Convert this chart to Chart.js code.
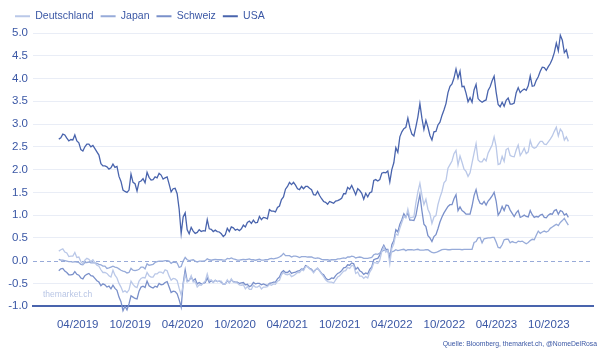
<!DOCTYPE html>
<html><head><meta charset="utf-8">
<script src="https://cdn.jsdelivr.net/npm/chart.js@4.4.1/dist/chart.umd.min.js"></script>
<style>html,body{margin:0;padding:0;background:#fff;}canvas{display:block;}</style>
</head><body>
<canvas id="c" width="604" height="356"></canvas>
<script>
// 10-year government bond yields, weekly (Friday) observations starting 2019-01-04
const seriesNames = ['Deutschland', 'Japan', 'Schweiz', 'USA'];
const firstWeek = '2019-01-04';

const deutschland = [
  0.21,0.24,0.26,0.19, 0.17,0.09,0.10,0.10, 0.18,0.07,0.08,-0.02,-0.07, 0.01,0.05,0.03,-0.02, 0.02,-0.05,-0.10,-0.12,-0.20, -0.26,-0.26,-0.28,-0.33, -0.36,-0.21,-0.32,-0.38, -0.50,-0.58,-0.69,-0.66,-0.70, -0.64,-0.45,-0.52,-0.57, -0.59,-0.45,-0.39,-0.37, -0.38,-0.26,-0.33,-0.36,-0.36, -0.29,-0.29,-0.25,-0.25,
  -0.28,-0.20,-0.22,-0.34,-0.43, -0.39,-0.40,-0.44,-0.61, -0.75,-0.54,-0.30,-0.47, -0.44,-0.33,-0.47,-0.46, -0.58,-0.53,-0.54,-0.49,-0.45, -0.29,-0.44,-0.42,-0.48, -0.43,-0.46,-0.45,-0.45,-0.52, -0.51,-0.42,-0.49,-0.40, -0.47,-0.48,-0.49,-0.53, -0.54,-0.53,-0.62,-0.57,-0.63, -0.63,-0.54,-0.58,-0.58, -0.55,-0.62,-0.58,-0.58,
  -0.57,-0.52,-0.54,-0.51,-0.52, -0.45,-0.43,-0.31,-0.26, -0.30,-0.31,-0.29,-0.35, -0.33,-0.30,-0.26,-0.26,-0.20, -0.22,-0.13,-0.13,-0.18, -0.21,-0.27,-0.20,-0.16, -0.23,-0.29,-0.35,-0.42,-0.46, -0.47,-0.47,-0.49,-0.42, -0.36,-0.33,-0.28,-0.23, -0.22,-0.15,-0.17,-0.11,-0.11, -0.28,-0.25,-0.34,-0.34, -0.39,-0.35,-0.38,-0.25,-0.18,
  -0.04,-0.05,-0.06,0.01, 0.20,0.30,0.19,0.23, -0.07,0.27,0.37,0.59, 0.56,0.71,0.84,0.97,0.94, 1.13,0.94,0.95,0.96, 1.27,1.51,1.70,1.44, 1.23,1.35,1.13,1.03,0.82, 0.96,0.99,1.23,1.39, 1.52,1.71,1.76,2.03,2.11, 2.19,2.35,2.42,2.10, 2.30,2.16,2.01,1.96, 1.85,1.93,2.15,2.36,2.57,
  2.21,2.17,2.17,2.24, 2.19,2.36,2.45,2.54, 2.72,2.51,2.11,2.13,2.29, 2.18,2.44,2.47,2.31, 2.29,2.28,2.43,2.54, 2.31,2.38,2.47,2.35,2.39, 2.64,2.50,2.47,2.49, 2.56,2.62,2.62,2.56, 2.55,2.61,2.67,2.74,2.84, 2.93,2.74,2.89,2.83, 2.65,2.72,2.62
];

const japan = [
  0.03,0.01,0.01,0.00, -0.01,-0.02,-0.02,-0.03, -0.02,-0.03,-0.04,-0.08,-0.09, -0.04,-0.04,-0.03,-0.05, -0.05,-0.05,-0.06,-0.08,-0.09, -0.12,-0.12,-0.17,-0.16, -0.14,-0.12,-0.14,-0.15, -0.18,-0.21,-0.23,-0.24,-0.27, -0.26,-0.17,-0.21,-0.22, -0.21,-0.19,-0.14,-0.14, -0.18,-0.07,-0.10,-0.09,-0.08, -0.04,-0.02,-0.01,-0.01,
  -0.01,0.00,0.00,-0.01,-0.06, -0.03,-0.04,-0.05,-0.15, -0.13,-0.01,0.07,0.02, 0.00,0.01,0.02,-0.01, -0.03,-0.01,-0.01,-0.01,0.00, 0.04,0.02,0.01,0.02, 0.03,0.02,0.02,0.02,0.01, 0.01,0.05,0.04,0.06, 0.04,0.03,0.01,0.01, 0.02,0.03,0.02,0.03,0.04, 0.02,0.02,0.01,0.02, 0.03,0.01,0.01,0.02,
  0.02,0.04,0.05,0.04,0.05, 0.06,0.08,0.11,0.16, 0.11,0.11,0.11,0.08, 0.10,0.10,0.09,0.07,0.09, 0.09,0.09,0.08,0.08, 0.08,0.06,0.05,0.06, 0.05,0.03,0.02,0.02,0.02, 0.01,0.02,0.02,0.02, 0.04,0.04,0.05,0.06, 0.05,0.08,0.08,0.10,0.09, 0.06,0.07,0.08,0.07, 0.05,0.05,0.05,0.06,0.07,
  0.13,0.15,0.14,0.17, 0.20,0.23,0.22,0.20, 0.15,0.19,0.21,0.24, 0.22,0.23,0.24,0.25,0.22, 0.24,0.24,0.24,0.23, 0.24,0.25,0.23,0.23, 0.23,0.24,0.24,0.21,0.18, 0.17,0.18,0.20,0.22, 0.24,0.25,0.25,0.24,0.24, 0.25,0.25,0.25,0.25, 0.25,0.24,0.25,0.25, 0.25,0.25,0.25,0.40,0.42,
  0.50,0.51,0.39,0.48, 0.49,0.50,0.50,0.51, 0.51,0.41,0.29,0.28,0.35, 0.46,0.47,0.47,0.39, 0.42,0.40,0.39,0.43, 0.42,0.43,0.40,0.37,0.40, 0.44,0.47,0.46,0.56, 0.65,0.60,0.63,0.65, 0.63,0.65,0.71,0.74,0.77, 0.80,0.77,0.84,0.88, 0.93,0.85,0.78
];

const schweiz = [
  -0.22,-0.18,-0.17,-0.23, -0.26,-0.31,-0.31,-0.30, -0.24,-0.30,-0.32,-0.38,-0.40, -0.33,-0.30,-0.28,-0.33, -0.34,-0.39,-0.44,-0.47,-0.55, -0.51,-0.53,-0.58,-0.56, -0.62,-0.54,-0.61,-0.65, -0.80,-0.90,-1.10,-1.00,-1.08, -0.95,-0.77,-0.80,-0.83, -0.84,-0.67,-0.58,-0.56, -0.59,-0.45,-0.55,-0.58,-0.60, -0.56,-0.58,-0.50,-0.53,
  -0.52,-0.48,-0.46,-0.58,-0.70, -0.67,-0.68,-0.73,-0.86, -1.02,-0.50,-0.20,-0.45, -0.43,-0.36,-0.44,-0.40, -0.51,-0.48,-0.51,-0.50,-0.48, -0.38,-0.48,-0.44,-0.47, -0.43,-0.46,-0.45,-0.47,-0.52, -0.51,-0.44,-0.48,-0.42, -0.46,-0.47,-0.47,-0.50, -0.49,-0.48,-0.53,-0.52,-0.57, -0.55,-0.48,-0.51,-0.50, -0.50,-0.53,-0.51,-0.53,
  -0.55,-0.50,-0.49,-0.47,-0.47, -0.40,-0.36,-0.26,-0.22, -0.26,-0.26,-0.22,-0.28, -0.26,-0.25,-0.23,-0.22,-0.18, -0.19,-0.11,-0.13,-0.17, -0.19,-0.25,-0.20,-0.17, -0.22,-0.28,-0.31,-0.38,-0.42, -0.41,-0.38,-0.39,-0.33, -0.28,-0.26,-0.22,-0.16, -0.15,-0.09,-0.10,-0.05,-0.07, -0.19,-0.15,-0.22,-0.25, -0.30,-0.27,-0.29,-0.19,-0.14,
  0.02,0.04,0.05,0.12, 0.25,0.34,0.25,0.25, 0.04,0.35,0.44,0.68, 0.63,0.80,0.90,1.03,0.96, 1.05,0.89,0.89,0.88, 0.99,1.23,1.45,1.10, 0.80,0.75,0.55,0.50,0.42, 0.53,0.57,0.70,0.85, 0.96,1.05,1.12,1.19,1.23, 1.23,1.36,1.45,1.10, 1.18,1.10,1.07,1.02, 1.02,1.02,1.20,1.43,1.56,
  1.36,1.26,1.24,1.30, 1.22,1.31,1.36,1.42, 1.50,1.31,1.00,1.07,1.19, 1.10,1.22,1.21,1.11, 1.04,0.97,1.05,1.10, 0.95,0.97,1.00,0.97,0.96, 1.10,1.01,0.95,0.97, 0.96,1.00,1.02,0.95, 0.94,1.00,1.03,1.02,1.10, 1.12,1.02,1.10,1.08, 1.00,1.03,0.95
];

const usa = [
  2.67,2.70,2.78,2.76, 2.69,2.63,2.66,2.65, 2.76,2.63,2.59,2.44,2.41, 2.50,2.56,2.56,2.50, 2.53,2.46,2.39,2.32,2.13, 2.08,2.08,2.06,2.01, 2.04,2.12,2.05,2.07, 1.85,1.74,1.55,1.52,1.50, 1.55,1.90,1.72,1.69, 1.53,1.73,1.75,1.80, 1.71,1.94,1.83,1.77,1.78, 1.84,1.82,1.92,1.88,
  1.79,1.82,1.84,1.68,1.51, 1.58,1.59,1.47,1.13, 0.60,0.96,1.05,0.68, 0.59,0.73,0.65,0.60, 0.62,0.68,0.64,0.66,0.65, 0.90,0.70,0.69,0.64, 0.67,0.64,0.63,0.59,0.53, 0.57,0.71,0.64,0.74, 0.72,0.67,0.69,0.66, 0.70,0.78,0.74,0.84,0.87, 0.82,0.89,0.83,0.84, 0.97,0.90,0.95,0.94,
  0.92,1.12,1.09,1.09,1.07, 1.17,1.20,1.34,1.40, 1.57,1.63,1.72,1.67, 1.72,1.66,1.58,1.56,1.63, 1.58,1.63,1.63,1.59, 1.56,1.45,1.44,1.52, 1.43,1.36,1.30,1.28,1.24, 1.30,1.28,1.26,1.31, 1.32,1.34,1.37,1.47, 1.47,1.61,1.57,1.65,1.55, 1.45,1.58,1.54,1.48, 1.35,1.48,1.40,1.49,1.51,
  1.76,1.78,1.75,1.78, 1.92,1.94,1.93,1.97, 1.73,2.00,2.15,2.48, 2.38,2.72,2.83,2.90,2.93, 3.13,2.92,2.78,2.74, 2.94,3.16,3.45,3.13, 2.88,3.08,2.93,2.75,2.65, 2.83,2.84,2.98,3.04, 3.19,3.31,3.45,3.69,3.83, 3.88,4.01,4.21,4.01, 4.16,3.82,3.83,3.68, 3.49,3.58,3.48,3.75,3.87,
  3.56,3.51,3.48,3.51, 3.53,3.74,3.82,3.95, 4.05,3.70,3.43,3.38,3.48, 3.39,3.52,3.57,3.44, 3.44,3.46,3.69,3.80, 3.69,3.74,3.77,3.74,3.84, 4.06,3.83,3.84,3.96, 4.04,4.16,4.25,4.24, 4.18,4.26,4.33,4.43,4.57, 4.78,4.61,4.95,4.84, 4.57,4.63,4.44
];

const xTickMonths = ['2019-04','2019-10','2020-04','2020-10','2021-04','2021-10','2022-04','2022-10','2023-04','2023-10'];
const xTickLabels = ['04/2019','10/2019','04/2020','10/2020','04/2021','10/2021','04/2022','10/2022','04/2023','10/2023'];
const yMin = -1.0, yMax = 5.0, yStep = 0.5, zeroLine = 0;
const watermark = 'themarket.ch';
const sourceText = 'Quelle: Bloomberg, themarket.ch, @NomeDelRosa';

const lineColors = ['#bac8e8', '#97abd9', '#7a90ca', '#4964ad'];
const textColor = '#3a57a5';
const FONT = '"Liberation Sans", Arial, Helvetica, sans-serif';

const DAY = 86400000;
const origin = Date.UTC(2019, 0, 1);
const dayOf = s => (Date.parse(s + 'T00:00:00Z') - origin) / DAY;
const start = dayOf(firstWeek);
const toPoints = arr => arr.map((v, i) => ({ x: start + 7 * i, y: v }));
const tickDays = xTickMonths.map(m => dayOf(m + '-01'));

const series = [deutschland, japan, schweiz, usa];

const refPlugin = {
  id: 'refLines',
  beforeLayout(chart) {
    const lg = chart.legend;
    if (lg && !lg._patched) {
      const orig = lg.fit;
      lg.fit = function () { orig.call(this); this.height = 29; };
      lg._patched = true;
    }
  },
  beforeDatasetsDraw(chart) {
    const { ctx, chartArea: a, scales: { y } } = chart;
    const yy = Math.round(y.getPixelForValue(zeroLine)) + 0.5;
    ctx.save();
    ctx.strokeStyle = '#98aad8';
    ctx.lineWidth = 1.2;
    ctx.setLineDash([4, 3]);
    ctx.beginPath(); ctx.moveTo(a.left, yy); ctx.lineTo(a.right, yy); ctx.stroke();
    ctx.setLineDash([]);
    ctx.font = '8.5px ' + FONT;
    ctx.fillStyle = '#b9c6e5';
    ctx.textAlign = 'left'; ctx.textBaseline = 'middle';
    ctx.fillText(watermark, a.left + 10, y.getPixelForValue(-0.75));
    ctx.restore();
  },
  afterDraw(chart) {
    const { ctx } = chart;
    ctx.save();
    ctx.font = '6.8px ' + FONT;
    ctx.fillStyle = textColor;
    ctx.textAlign = 'right'; ctx.textBaseline = 'middle';
    ctx.fillText(sourceText, 597, 344);
    ctx.restore();
  }
};

new Chart(document.getElementById('c'), {
  type: 'line',
  data: {
    datasets: series.map((arr, i) => ({
      label: seriesNames[i],
      data: toPoints(arr),
      borderColor: lineColors[i],
      backgroundColor: lineColors[i],
      borderWidth: 1.3,
      pointRadius: 0,
      tension: 0,
      fill: false,
      clip: false
    }))
  },
  options: {
    responsive: false,
    animation: false,
    layout: { padding: { left: 8, right: 11, top: 4, bottom: 12 } },
    plugins: {
      legend: {
        position: 'top', align: 'start',
        labels: {
          usePointStyle: true, pointStyle: 'line', pointStyleWidth: 15,
          font: { size: 10.5, family: FONT }, color: textColor, padding: 7,
          generateLabels: (chart) => Chart.defaults.plugins.legend.labels.generateLabels(chart).map(l => Object.assign(l, { lineWidth: 2 }))
        }
      },
      tooltip: { enabled: false }
    },
    scales: {
      x: {
        type: 'linear', min: -87, max: 1867,
        grid: { display: false, drawTicks: false },
        border: { display: true, color: '#4964ad', width: 2 },
        afterBuildTicks: s => { s.ticks = tickDays.map(v => ({ value: v })); },
        ticks: {
          autoSkip: false, maxRotation: 0, minRotation: 0, padding: 12, labelOffset: -6,
          font: { size: 11.5, family: FONT }, color: textColor,
          callback: (v, i) => xTickLabels[i]
        }
      },
      y: {
        min: yMin, max: yMax,
        afterFit: s => { s.width = 25; },
        grid: {
          drawTicks: false, lineWidth: 1,
          color: c => (Math.abs(c.tick.value - zeroLine) < 1e-9 || c.tick.value <= yMin + 1e-9) ? 'rgba(0,0,0,0)' : '#e9edf6'
        },
        border: { display: false },
        ticks: {
          stepSize: yStep, padding: 5,
          font: { size: 11.5, family: FONT }, color: textColor,
          callback: v => Number(v).toFixed(1)
        }
      }
    }
  },
  plugins: [refPlugin]
});
</script>
</body></html>
